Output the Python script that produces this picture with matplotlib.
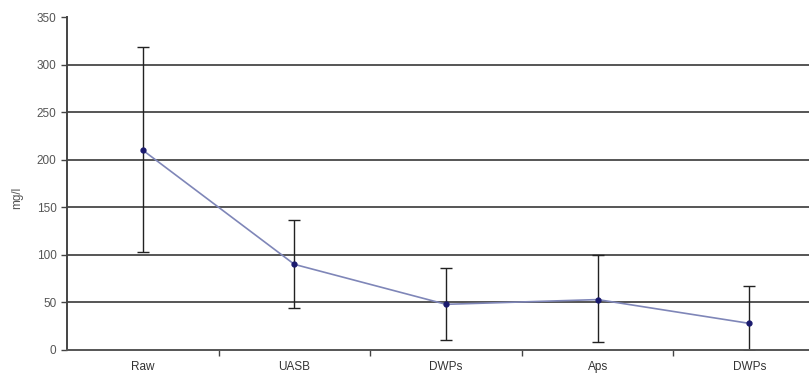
import matplotlib
matplotlib.use("Agg")
import matplotlib.pyplot as plt
import numpy as np

categories = ["Raw", "UASB", "DWPs", "Aps", "DWPs"]
means = [210, 90, 48, 53, 28]
upper = [318, 137, 86, 100, 67]
lower = [103, 44, 10, 8, 0]

plt.rcParams['font.family'] = ['Liberation Sans', 'DejaVu Sans']

fig = plt.figure(figsize=(8.09, 3.79), dpi=100)
ax = fig.add_axes([67/809, 1-350/379, 1-67/809, (350-17)/379])

x = np.arange(len(categories))
m = np.array(means)
yerr = [m - np.array(lower), np.array(upper) - m]

for yv in range(50, 351, 50):
    if yv < 350:
        ax.axhline(yv, color='#555555', lw=1.4, zorder=1)

ax.errorbar(x, m, yerr=yerr, fmt='none', ecolor='#222222', elinewidth=1.0,
            capsize=4, capthick=1.0, zorder=2)
ax.plot(x, m, color='#7f86b8', lw=1.2, zorder=3)
ax.plot(x, m, 'o', color='#1a1a6e', ms=3.5, zorder=4)

ax.set_ylim(0, 350)
ax.set_xlim(-0.5, (809-67)/151.6 - 0.5)
ax.set_yticks(range(0, 351, 50))
ax.set_xticks(x)
ax.set_xticklabels(categories)
ax.set_xticks(np.arange(0.5, 4.5, 1.0), minor=True)
ax.tick_params(axis='x', which='major', length=0, pad=8, labelsize=8.5, colors='#333333')
ax.tick_params(axis='x', which='minor', length=4, color='#444444', width=1.0)
ax.tick_params(axis='y', length=4, color='#444444', width=1.0, labelsize=8.5, labelcolor='#555555')

for s in ['top', 'right']:
    ax.spines[s].set_visible(False)
ax.spines['left'].set_color('#444444')
ax.spines['left'].set_linewidth(1.4)
ax.spines['bottom'].set_color('#555555')
ax.spines['bottom'].set_linewidth(1.4)

ax.set_ylabel('mg/l', fontsize=8.5, color='#555555')
ax.yaxis.set_label_coords((23-67)/742, (350-198)/333)

fig.savefig('out.png', dpi=100)
